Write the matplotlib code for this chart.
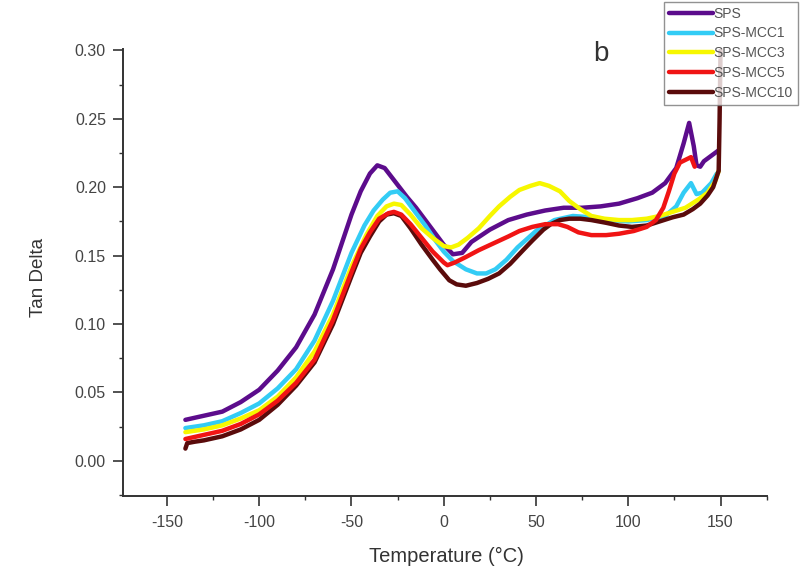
import numpy as np
import matplotlib
matplotlib.use("Agg")
import matplotlib.pyplot as plt
from matplotlib.ticker import MultipleLocator

plt.rcParams['font.family'] = ['Liberation Sans', 'DejaVu Sans']
plt.rcParams['axes.unicode_minus'] = False

# SPS
sps_x = [-140, -130, -120, -110, -100, -90, -80, -70, -60, -50, -45, -40, -36, -32, -28, -24, -20, -15, -10, -5, 0, 5, 10, 15, 25, 35, 45, 55, 65, 75, 85, 95, 105, 113, 120, 126, 130, 133, 135.5, 137, 139, 141, 145, 149]
sps_y = [0.030, 0.033, 0.036, 0.043, 0.052, 0.066, 0.083, 0.107, 0.140, 0.180, 0.197, 0.210, 0.216, 0.214, 0.207, 0.200, 0.193, 0.185, 0.176, 0.167, 0.158, 0.151, 0.152, 0.160, 0.169, 0.176, 0.180, 0.183, 0.185, 0.185, 0.186, 0.188, 0.192, 0.196, 0.203, 0.214, 0.232, 0.247, 0.230, 0.216, 0.215, 0.219, 0.223, 0.227]

# SPS-MCC1
mcc1_x = [-140, -130, -120, -110, -100, -90, -80, -70, -60, -50, -43, -38, -33, -29, -25, -21, -15, -10, -5, 0, 5, 12, 18, 23, 28, 34, 40, 50, 60, 70, 80, 90, 100, 110, 120, 126, 130, 134, 137, 140, 145, 148]
mcc1_y = [0.024, 0.026, 0.029, 0.035, 0.042, 0.053, 0.067, 0.088, 0.117, 0.152, 0.172, 0.183, 0.191, 0.196, 0.197, 0.192, 0.181, 0.172, 0.162, 0.153, 0.146, 0.140, 0.137, 0.137, 0.140, 0.147, 0.156, 0.168, 0.176, 0.179, 0.178, 0.176, 0.175, 0.176, 0.179, 0.186, 0.196, 0.203, 0.195, 0.196, 0.203, 0.210]

# SPS-MCC3
mcc3_x = [-140, -130, -120, -110, -100, -90, -80, -70, -60, -50, -42, -36, -31, -27, -23, -18, -12, -6, 0, 4, 8, 13, 19, 25, 30, 36, 41, 47, 52, 57, 63, 68, 74, 80, 87, 95, 102, 110, 117, 124, 131, 138, 143, 147, 149]
mcc3_y = [0.021, 0.023, 0.026, 0.031, 0.037, 0.047, 0.061, 0.080, 0.107, 0.142, 0.165, 0.179, 0.186, 0.188, 0.187, 0.180, 0.170, 0.163, 0.157, 0.156, 0.158, 0.163, 0.170, 0.179, 0.186, 0.193, 0.198, 0.201, 0.203, 0.201, 0.197, 0.190, 0.184, 0.179, 0.177, 0.176, 0.176, 0.177, 0.179, 0.182, 0.185, 0.191, 0.196, 0.204, 0.212]

# SPS-MCC5
mcc5_x = [-140, -130, -120, -110, -100, -90, -80, -70, -60, -50, -45, -40, -35, -30, -27, -23, -18, -12, -6, 0, 2, 6, 12, 19, 27, 35, 41, 48, 55, 62, 67, 73, 80, 88, 95, 103, 110, 115, 119, 122, 125, 128, 131, 134, 136]
mcc5_y = [0.016, 0.019, 0.022, 0.027, 0.034, 0.044, 0.057, 0.074, 0.103, 0.138, 0.155, 0.167, 0.177, 0.181, 0.182, 0.180, 0.173, 0.163, 0.153, 0.145, 0.143, 0.145, 0.149, 0.154, 0.159, 0.164, 0.168, 0.171, 0.173, 0.173, 0.171, 0.167, 0.165, 0.165, 0.166, 0.168, 0.171, 0.176, 0.185, 0.197, 0.210, 0.218, 0.220, 0.222, 0.215]

# SPS-MCC10
mcc10_x = [-140, -139, -135, -130, -120, -110, -100, -90, -80, -70, -60, -50, -45, -40, -35, -31, -27, -23, -18, -12, -6, -2, 3, 7, 12, 18, 24, 30, 36, 43, 48, 54, 58, 63, 68, 74, 80, 88, 95, 102, 110, 117, 124, 130, 135, 139, 143, 146, 149, 149.5, 150]
mcc10_y = [0.009, 0.013, 0.014, 0.015, 0.018, 0.023, 0.030, 0.041, 0.055, 0.072, 0.100, 0.135, 0.152, 0.164, 0.175, 0.180, 0.181, 0.179, 0.170, 0.158, 0.147, 0.140, 0.132, 0.129, 0.128, 0.130, 0.133, 0.137, 0.144, 0.154, 0.161, 0.169, 0.173, 0.176, 0.177, 0.177, 0.176, 0.174, 0.172, 0.171, 0.172, 0.175, 0.178, 0.180, 0.184, 0.188, 0.194, 0.200, 0.212, 0.25, 0.30]

series = [
    ("SPS", sps_x, sps_y, "#5c0c8c", 3),
    ("SPS-MCC1", mcc1_x, mcc1_y, "#33ccf5", 3),
    ("SPS-MCC3", mcc3_x, mcc3_y, "#f7f700", 4),
    ("SPS-MCC5", mcc5_x, mcc5_y, "#f01414", 6),
    ("SPS-MCC10", mcc10_x, mcc10_y, "#5a0b0b", 5),
]

fig = plt.figure(figsize=(8.07, 5.70), dpi=100)
ax = fig.add_axes([0.152, 0.129, 0.798, 0.785])

for name, xs, ys, col, z in series:
    ax.plot(xs, ys, color=col, lw=3.2, label=name, zorder=z,
            solid_joinstyle='round', solid_capstyle='round')

ax.set_xlim(-174, 175)
ax.set_ylim(-0.026, 0.301)
ax.xaxis.set_major_locator(MultipleLocator(50))
ax.xaxis.set_minor_locator(MultipleLocator(25))
ax.yaxis.set_major_locator(MultipleLocator(0.05))
ax.yaxis.set_minor_locator(MultipleLocator(0.025))
ax.yaxis.set_major_formatter(matplotlib.ticker.FormatStrFormatter('%.2f'))

for s in ['top', 'right']:
    ax.spines[s].set_visible(False)
for s in ['left', 'bottom']:
    ax.spines[s].set_color('#333333')
    ax.spines[s].set_linewidth(1.4)

ax.tick_params(which='major', direction='out', length=7, width=1.2, color='#333333',
               labelsize=11.5, labelcolor='#444444')
ax.tick_params(axis='x', which='major', pad=6)
ax.tick_params(axis='y', which='major', pad=5)
ax.tick_params(which='minor', direction='out', length=3, width=1.0, color='#333333')

ax.set_xlabel("Temperature (°C)", fontsize=14.5, color='#333333', va='center')
ax.set_ylabel("Tan Delta", fontsize=13.5, color='#333333', va='center')
ax.xaxis.set_label_coords(0.502, -0.135)
ax.yaxis.set_label_coords(-0.13, 0.489)

fig.text(0.745, 0.905, "b", fontsize=20, color='#333333', ha='center', va='center')

leg = ax.legend(loc='upper left', bbox_to_anchor=(0.823, 0.997), bbox_transform=fig.transFigure,
                fontsize=10, frameon=True, fancybox=False, handlelength=3.2, handletextpad=0.0,
                labelspacing=0.42, borderpad=0.35, borderaxespad=0)
leg.get_frame().set_edgecolor('#777777')
leg.get_frame().set_linewidth(1.0)
leg.set_zorder(20)
for t in leg.get_texts():
    t.set_color('#555555')

fig.savefig("out.png", dpi=100)
